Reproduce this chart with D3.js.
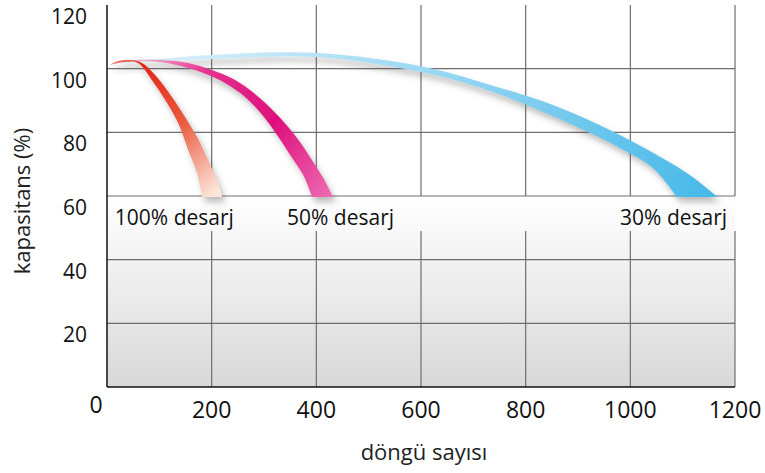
<!DOCTYPE html>
<html>
<head>
<meta charset="utf-8">
<script src="https://cdn.jsdelivr.net/npm/d3@7"></script>
<style>
  body { margin: 0; background: #fff; }
  svg { display: block; font-family: 'Open Sans', sans-serif; }
</style>
</head>
<body>
<svg id="chart" width="765" height="473"></svg>
<script>
(function () {
  // axis ticks
  var xTicks = [0, 200, 400, 600, 800, 1000, 1200];
  var yTicks = [20, 40, 60, 80, 100, 120];

  // series: upper / lower edge of each band, [cycles, capacity %]
  var seriesNames = ['100% desarj', '50% desarj', '30% desarj'];

  var redUpper = [[6, 101.2], [21, 102.4], [44, 102.7], [67, 101.8], [92, 98.0], [124, 91.1], [149, 84.8], [172, 78.5], [193, 71.3], [210, 65.0], [220, 59.7]];
  var redLower = [[6, 101.2], [34, 102.1], [59, 101.8], [86, 96.4], [111, 90.2], [136, 82.9], [155, 74.5], [172, 67.2], [182, 59.7]];

  var pinkUpper = [[34, 102.7], [101, 102.7], [155, 101.8], [216, 98.6], [254, 95.5], [292, 90.8], [331, 84.5], [363, 78.2], [394, 70.7], [413, 65.7], [432, 59.7]];
  var pinkLower = [[34, 102.4], [101, 102.1], [155, 100.2], [216, 96.4], [254, 92.4], [292, 86.4], [325, 79.2], [350, 72.9], [375, 66.6], [392, 59.7]];

  var blueUpper = [[10, 101.8], [201, 104.3], [399, 104.9], [598, 100.8], [726, 95.2], [852, 88.6], [980, 79.2], [1108, 67.2], [1166, 59.7]];
  var blueLower = [[10, 101.5], [201, 103.0], [399, 103.7], [598, 99.0], [726, 93.3], [852, 85.1], [980, 75.1], [1043, 68.8], [1089, 59.7]];

  const LEFT = 107;
  const RIGHT = 735;
  const TOP = 5;
  const BOTTOM = 387;
  const LABEL_STRIP = 35;

  var svg = d3.select('#chart');
  var x = d3.scaleLinear().domain([0, 1200]).range([LEFT, RIGHT]);
  var y = d3.scaleLinear().domain([0, 120]).range([BOTTOM, TOP]);

  var defs = svg.append('defs');

  var bg = defs.append('linearGradient').attr('id', 'bgGrad')
    .attr('x1', 0).attr('y1', 0).attr('x2', 0).attr('y2', 1);
  bg.append('stop').attr('offset', 0).attr('stop-color', '#ffffff');
  bg.append('stop').attr('offset', 1).attr('stop-color', '#d8d8d8');

  function makeGradient (id, x1, y1, x2, y2, stops) {
    var g = defs.append('linearGradient').attr('id', id)
      .attr('gradientUnits', 'userSpaceOnUse')
      .attr('x1', x1).attr('y1', y1).attr('x2', x2).attr('y2', y2);
    stops.forEach(function (s) {
      g.append('stop').attr('offset', s[0]).attr('stop-color', s[1]);
    });
  }
  makeGradient('redGrad', x(0), y(103), x(200), y(60),
    [[0, '#f59a88'], [0.15, '#e3261a'], [0.55, '#e9583c'], [1, '#fde6da']]);
  makeGradient('pinkGrad', x(40), y(103), x(420), y(60),
    [[0, '#f7c2dc'], [0.3, '#e5318f'], [0.65, '#df0f7d'], [1, '#ec68b0']]);
  makeGradient('blueGrad', x(0), y(100), x(1150), y(60),
    [[0, '#e2f4fc'], [0.45, '#a5dcf4'], [1, '#48b9e9']]);

  var shadow = defs.append('filter').attr('id', 'shadow')
    .attr('x', '-20%').attr('y', '-20%').attr('width', '140%').attr('height', '140%');
  shadow.append('feDropShadow')
    .attr('dx', 3).attr('dy', 5).attr('stdDeviation', 3)
    .attr('flood-color', '#555').attr('flood-opacity', 0.4);

  // background
  svg.append('rect')
    .attr('x', LEFT).attr('y', TOP)
    .attr('width', RIGHT - LEFT).attr('height', y(60) - TOP)
    .attr('fill', '#fff');
  svg.append('rect')
    .attr('x', LEFT).attr('y', y(60))
    .attr('width', RIGHT - LEFT).attr('height', BOTTOM - y(60))
    .attr('fill', 'url(#bgGrad)');

  // grid
  var grid = svg.append('g').attr('stroke', '#6e6e6e').attr('stroke-width', 1.2);
  yTicks.filter(function (v) { return v < 120; }).forEach(function (v) {
    grid.append('line')
      .attr('x1', LEFT).attr('x2', RIGHT)
      .attr('y1', y(v)).attr('y2', y(v));
  });
  xTicks.slice(1).forEach(function (v) {
    grid.append('line')
      .attr('x1', x(v)).attr('x2', x(v))
      .attr('y1', TOP).attr('y2', y(60));
    grid.append('line')
      .attr('x1', x(v)).attr('x2', x(v))
      .attr('y1', y(60) + LABEL_STRIP).attr('y2', BOTTOM);
  });

  // axes
  svg.append('line')
    .attr('x1', LEFT).attr('x2', LEFT).attr('y1', TOP).attr('y2', BOTTOM)
    .attr('stroke', '#111').attr('stroke-width', 1.5);
  svg.append('line')
    .attr('x1', LEFT).attr('x2', RIGHT).attr('y1', BOTTOM).attr('y2', BOTTOM)
    .attr('stroke', '#111').attr('stroke-width', 1.5);

  // bands
  var edge = d3.line()
    .x(function (d) { return x(d[0]); })
    .y(function (d) { return y(d[1]); })
    .curve(d3.curveCatmullRom.alpha(0.5));

  function bandPath (upper, lower) {
    return edge(upper) + edge(lower.slice().reverse()).replace(/^M/, 'L') + 'Z';
  }

  var bands = [
    { upper: blueUpper, lower: blueLower, fill: 'url(#blueGrad)' },
    { upper: pinkUpper, lower: pinkLower, fill: 'url(#pinkGrad)' },
    { upper: redUpper, lower: redLower, fill: 'url(#redGrad)' }
  ];
  svg.append('g').selectAll('path')
    .data(bands)
    .join('path')
    .attr('d', function (d) { return bandPath(d.upper, d.lower); })
    .attr('fill', function (d) { return d.fill; })
    .attr('filter', 'url(#shadow)');

  // band labels
  var labelAt = [[15, 'start'], [344, 'start'], [1185, 'end']];
  svg.append('g').selectAll('text')
    .data(seriesNames)
    .join('text')
    .attr('x', function (d, i) { return x(labelAt[i][0]); })
    .attr('y', y(60) + 29)
    .attr('text-anchor', function (d, i) { return labelAt[i][1]; })
    .attr('font-size', 21)
    .attr('fill', '#111')
    .text(function (d) { return d; });

  // tick labels
  svg.append('g').selectAll('text')
    .data(yTicks)
    .join('text')
    .attr('x', 87)
    .attr('y', function (d) { return y(d) + 19; })
    .attr('text-anchor', 'end')
    .attr('font-size', 21)
    .attr('fill', '#111')
    .text(function (d) { return d; });

  svg.append('g').selectAll('text')
    .data(xTicks)
    .join('text')
    .attr('x', function (d) { return d === 0 ? x(d) - 11 : x(d); })
    .attr('y', function (d) { return d === 0 ? BOTTOM + 26 : BOTTOM + 31; })
    .attr('text-anchor', 'middle')
    .attr('font-size', 23)
    .attr('fill', '#111')
    .text(function (d) { return d; });

  // axis titles
  svg.append('text')
    .attr('x', 424).attr('y', 460)
    .attr('text-anchor', 'middle')
    .attr('font-size', 22)
    .attr('fill', '#222')
    .text('döngü sayısı');
  svg.append('text')
    .attr('transform', 'translate(30,201) rotate(-90)')
    .attr('text-anchor', 'middle')
    .attr('font-size', 22)
    .attr('fill', '#222')
    .text('kapasitans (%)');
}());
</script>
</body>
</html>
